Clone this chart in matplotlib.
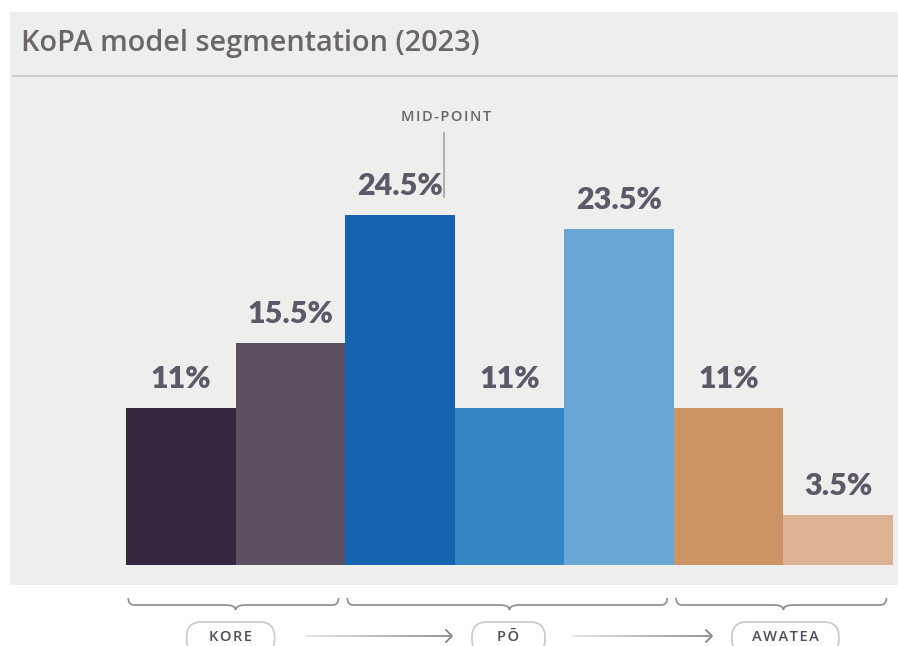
import matplotlib
matplotlib.use("Agg")
import matplotlib.pyplot as plt
import numpy as np
from matplotlib.patches import Rectangle, FancyBboxPatch, PathPatch
from matplotlib.path import Path
import matplotlib.transforms as mtransforms

# ---- data ----
values = [11, 15.5, 24.5, 11, 23.5, 11, 3.5]
labels = ["11%", "15.5%", "24.5%", "11%", "23.5%", "11%", "3.5%"]
colors = ["#33283f", "#5a5062", "#1664b1", "#3385c3", "#69a5d5", "#cc9465", "#dcb292"]
groups = ["KORE", "PŌ", "AWATEA"]
group_spans = [(0, 1), (2, 4), (5, 6)]
title = "KoPA model segmentation (2023)"
midpoint_label = "MID-POINT"

plt.rcParams['font.family'] = ['Lato', 'DejaVu Sans']

W, H = 898, 646
fig = plt.figure(figsize=(W / 100, H / 100), dpi=100)
fig.patch.set_facecolor("white")

def fx(px):
    return px / W

def fy(py):  # py from top
    return 1 - py / H

def spaced(s, sp="\u200a"):
    return sp.join(s)

# grey panel
fig.patches.append(Rectangle((fx(10), fy(585)), fx(888), 573 / H,
                             transform=fig.transFigure, facecolor="#eeeeec",
                             edgecolor="none", zorder=-5))

# overlay axes in pixel coords (y from top)
ov = fig.add_axes([0, 0, 1, 1], zorder=1)
ov.set_xlim(0, W)
ov.set_ylim(H, 0)
ov.axis("off")
ov.patch.set_alpha(0)

ov.text(21, 43, title, fontsize=20.8, color="#6b6767", fontweight="semibold",
        va="center", ha="left", family=["Open Sans", "DejaVu Sans"])
ov.plot([12, 898], [76, 76], color="#cfcfcd", lw=1.5, solid_capstyle="butt")

# bar axes
ymax = 30
ax = fig.add_axes([fx(126), 81 / H, 767 / W, 429 / H], zorder=2)
ax.set_xlim(-0.5, len(values) - 0.5)
ax.set_ylim(0, ymax)
ax.axis("off")
ax.patch.set_alpha(0)

x = np.arange(len(values))
ax.bar(x, values, width=1.0, color=colors, edgecolor="none")
for xi, v, lab in zip(x, values, labels):
    ax.annotate(lab, (xi, v), xytext=(0, 14.5), textcoords="offset points",
                ha="center", va="baseline", fontsize=22, fontweight="heavy",
                color="#5f5869")

# blended transform: x in bar data units, y in overlay pixels
bt = mtransforms.blended_transform_factory(ax.transData, ov.transData)
px_per_unit = 767 / len(values)

# midpoint marker
ax_mid = (444 - 126) / px_per_unit - 0.5
ov.plot([ax_mid, ax_mid], [133, 197], color="#a9a9a9", lw=1.3, transform=bt)
ov.text(ax_mid + 2 / px_per_unit, 117, spaced(midpoint_label), transform=bt,
        ha="center", va="center",
        fontsize=10.5, color="#6b6767", fontweight="semibold",
        family=["Open Sans", "DejaVu Sans"])

# brackets
for (a, b) in group_spans:
    x0 = a - 0.5 + 0.02
    x1 = b + 0.5 - 0.06
    xc = (a + b) / 2
    r = 6 / px_per_unit
    d = 10 / px_per_unit
    yt, yl, ytip = 598, 605, 610
    verts = [(x0, yt), (x0, yl), (x0 + r, yl),
             (xc - d, yl), (xc, yl), (xc, ytip),
             (xc, yl), (xc + d, yl),
             (x1 - r, yl), (x1, yl), (x1, yt)]
    codes = [Path.MOVETO, Path.CURVE3, Path.CURVE3,
             Path.LINETO, Path.CURVE3, Path.CURVE3,
             Path.CURVE3, Path.CURVE3,
             Path.LINETO, Path.CURVE3, Path.CURVE3]
    ov.add_patch(PathPatch(Path(verts, codes), transform=bt, facecolor="none",
                           edgecolor="#8d8a90", lw=1.2))

# pills
pill_w = [88, 73, 107]
pill_shift = [-5, -1, 2]
for (a, b), name, pw, sh in zip(group_spans, groups, pill_w, pill_shift):
    xc = (a + b) / 2
    xc_px = 126 + (xc + 0.5) * px_per_unit + sh
    ov.add_patch(FancyBboxPatch((xc_px - pw / 2, 622), pw, 32,
                                boxstyle="round,pad=0,rounding_size=15",
                                facecolor="white", edgecolor="#c9c7c9", lw=1.2,
                                zorder=3, clip_on=False))
    ov.text(xc_px, 637, spaced(name), ha="center", va="center", fontsize=10.5,
            fontweight="semibold", color="#524d58", zorder=4,
            family=["Open Sans", "DejaVu Sans"])

# arrows with gradient
for (xs, xe) in [(305, 452), (572, 712)]:
    n = 30
    xs_arr = np.linspace(xs, xe - 2, n + 1)
    for i in range(n):
        c = 0.88 - 0.38 * i / n
        ov.plot(xs_arr[i:i + 2], [636, 636], color=(c, c, c), lw=1.2,
                solid_capstyle="butt")
    ov.plot([xe - 6, xe, xe - 6], [630, 636, 642], color="#7f7c82", lw=1.2)

fig.savefig("out.png", dpi=100, facecolor="white")
